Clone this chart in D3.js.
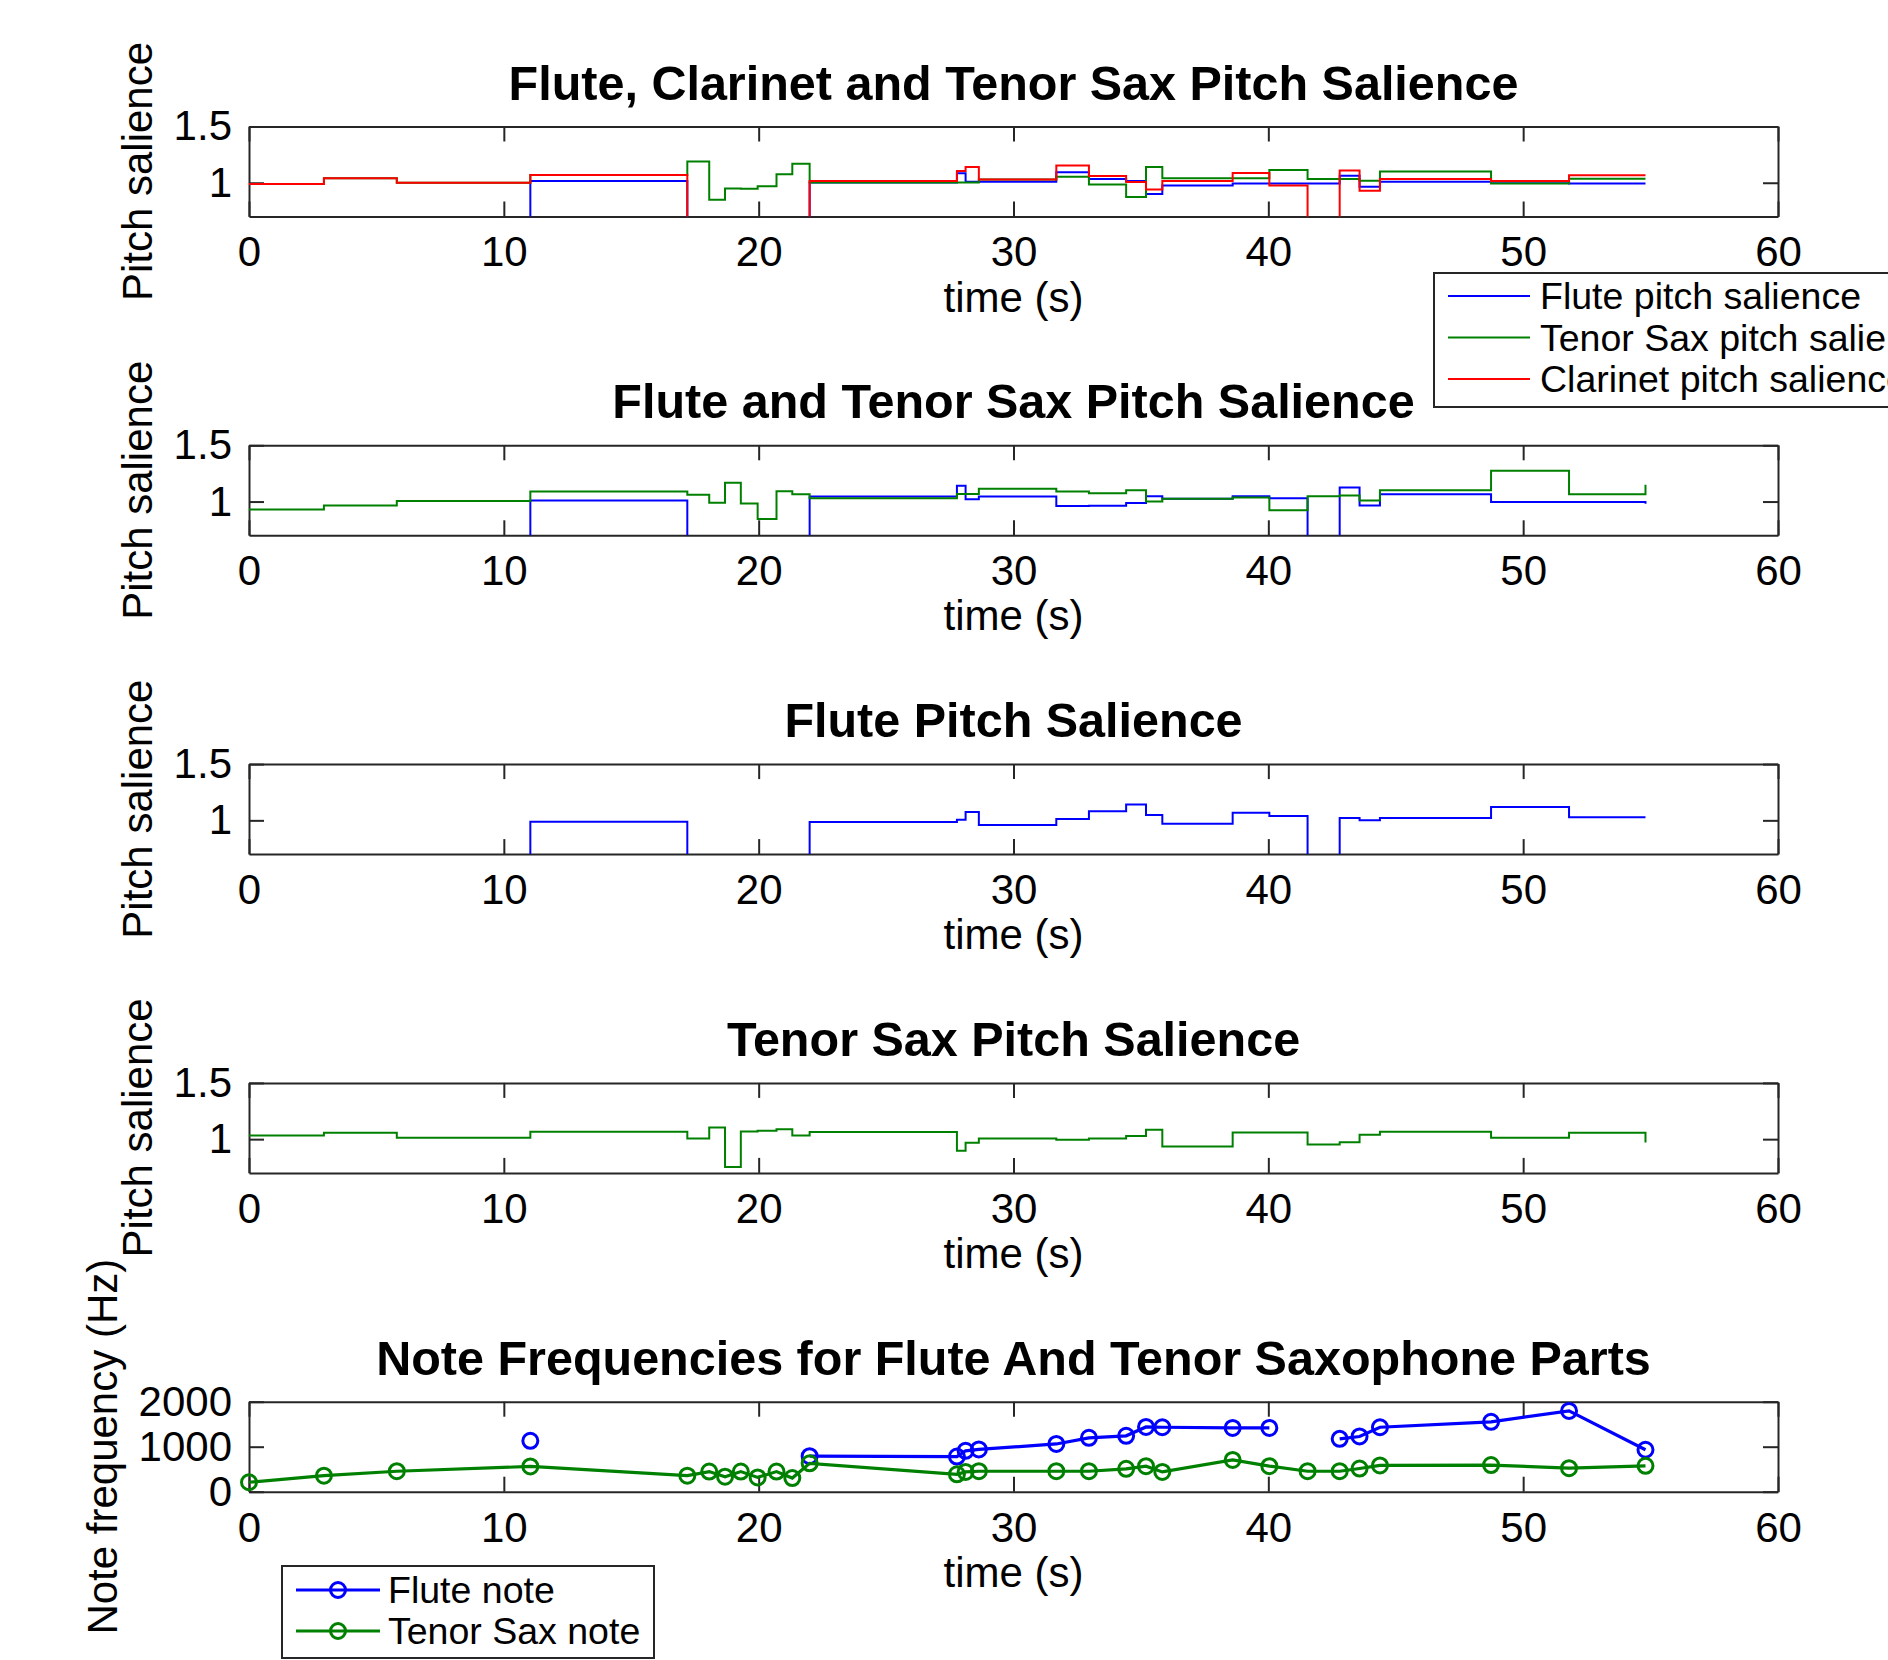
<!DOCTYPE html>
<html>
<head>
<meta charset="utf-8">
<script src="https://cdn.jsdelivr.net/npm/d3@7/dist/d3.min.js"></script>
<style>
  body { margin: 0; background: #fff; }
  text { font-family: "Liberation Sans", Arial, Helvetica, sans-serif; }
</style>
</head>
<body>
<script>
// note onset times (s), shared by every series
const noteTimes = [0, 2.94, 5.8, 11.04, 17.2, 18.06, 18.68, 19.3, 19.96, 20.7, 21.32, 22.0,
  27.78, 28.12, 28.64, 31.68, 32.96, 34.42, 35.2, 35.84, 38.6, 40.04, 41.54, 42.8, 43.58,
  44.38, 48.74, 51.8, 54.8];

// flute + clarinet + tenor sax mix
const trioFlute = [0, 0, 0, 1.015, 0, 0, 0, 0, 0, 0, 0, 1.003, 1.084, 1.01, 1.01,
  1.093, 1.033, 1.015, 0.9, 0.976, 0.994, 0.994, 0.994, 1.063, 0.964, 1.01, 1.01, 0.994, 0.994];
const trioSax = [0.988, 1.039, 1.0, 1.069, 1.19, 0.85, 0.95, 0.946, 0.97, 1.075, 1.17, 1.003,
  1.003, 1.003, 1.03, 1.054, 0.985, 0.873, 1.14, 1.04, 1.04, 1.114, 1.033, 1.033, 1.018, 1.1,
  0.994, 1.036, 1.036];
const trioClarinet = [0.988, 1.039, 1.0, 1.069, 0, 0, 0, 0, 0, 0, 0, 1.015, 1.105, 1.14, 1.03,
  1.154, 1.06, 1.006, 0.94, 1.015, 1.087, 0.976, 0, 1.11, 0.93, 1.033, 1.015, 1.066, 1.066];

// flute + tenor sax mix
const duoFlute = [0, 0, 0, 1.009, 0, 0, 0, 0, 0, 0, 0, 1.045, 1.14, 1.02, 1.045,
  0.961, 0.963, 0.988, 1.048, 1.024, 1.048, 1.03, 0, 1.125, 0.964, 1.065, 0.997, 0.997, 0.98];
const duoSax = [0.93, 0.964, 1.006, 1.089, 1.06, 0.99, 1.167, 0.982, 0.845, 1.092, 1.065, 1.03,
  1.068, 1.068, 1.113, 1.089, 1.074, 1.1, 1.0, 1.024, 1.036, 0.923, 1.048, 1.054, 1.009, 1.1,
  1.274, 1.065, 1.149];

// solo parts
const soloFlute = [0, 0, 0, 0.988, 0, 0, 0, 0, 0, 0, 0, 0.985, 1.006, 1.074, 0.959,
  1.012, 1.08, 1.142, 1.047, 0.97, 1.068, 1.038, 0, 1.021, 1.0, 1.021, 1.118, 1.027, 1.027];
const soloSax = [1.033, 1.057, 1.012, 1.065, 1.006, 1.104, 0.753, 1.068, 1.074, 1.089, 1.033, 1.0625,
  0.896, 0.967, 1.006, 0.994, 1.006, 1.027, 1.083, 0.935, 1.06, 1.06, 0.952, 0.973, 1.039, 1.065,
  1.012, 1.057, 0.97];

// note frequencies (Hz)
const fluteNoteHz = [null, null, null, 1130, null, null, null, null, null, null, null, 790,
  780, 909, 939, 1061, 1197, 1242, 1439, 1432, 1417, 1417, null, 1174, 1227, 1432, 1553, 1795, 932];
const saxNoteHz = [210, 356, 455, 561, 356, 447, 333, 447, 318, 447, 303, 630, 386, 440, 455,
  455, 455, 508, 568, 439, 705, 568, 455, 455, 515, 583, 591, 523, 576];

const xTicks = [0, 10, 20, 30, 40, 50, 60];
const salienceTicks = [1, 1.5];
const freqTicks = [0, 1000, 2000];

const W = 1888, H = 1660;
const left = 249, right = 1778, panelH = 90;
const axisCol = "#262626";
const BLUE = "#0000ff", GREEN = "#008000", RED = "#ff0000";

const svg = d3.select("body").append("svg").attr("width", W).attr("height", H);
const x = d3.scaleLinear().domain([0, 60]).range([left, right]);
const plain = d3.format("");

function panel(top, idx, title, yDomain, yTicks, ylabel, ylabelX) {
  const y = d3.scaleLinear().domain(yDomain).range([top + panelH, top]);
  const g = svg.append("g");
  g.append("clipPath").attr("id", "clip" + idx)
    .append("rect").attr("x", left).attr("y", top).attr("width", right - left).attr("height", panelH);

  const style = sel => {
    sel.selectAll("path, line").attr("stroke", axisCol).attr("stroke-width", 2);
    sel.selectAll("text").attr("fill", "#000").attr("font-size", 42)
      .style("font-family", "'Liberation Sans', Arial, sans-serif");
  };
  g.append("g").attr("transform", `translate(0,${top + panelH})`)
    .call(d3.axisBottom(x).tickValues(xTicks).tickFormat(plain).tickSizeInner(-15).tickSizeOuter(0).tickPadding(20)).call(style);
  g.append("g").attr("transform", `translate(0,${top})`)
    .call(d3.axisTop(x).tickValues(xTicks).tickSizeInner(-15).tickSizeOuter(0).tickFormat("")).call(style);
  g.append("g").attr("transform", `translate(${left},0)`)
    .call(d3.axisLeft(y).tickValues(yTicks).tickFormat(plain).tickSizeInner(-15).tickSizeOuter(0).tickPadding(17)).call(style);
  g.append("g").attr("transform", `translate(${right},0)`)
    .call(d3.axisRight(y).tickValues(yTicks).tickSizeInner(-15).tickSizeOuter(0).tickFormat("")).call(style);

  g.append("text").attr("x", (left + right) / 2).attr("y", top - 27)
    .attr("text-anchor", "middle").attr("font-size", 48.5).attr("font-weight", "bold").text(title);
  g.append("text").attr("x", (left + right) / 2).attr("y", top + panelH + 95)
    .attr("text-anchor", "middle").attr("font-size", 42).text("time (s)");
  g.append("text").attr("transform", `translate(${ylabelX},${top + panelH / 2}) rotate(-90)`)
    .attr("text-anchor", "middle").attr("font-size", 42).text(ylabel);
  return { g, y, clip: "url(#clip" + idx + ")" };
}

function stairs(p, values, color) {
  const line = d3.line().x(d => x(d[0])).y(d => p.y(d[1])).curve(d3.curveStepAfter);
  p.g.append("path").datum(noteTimes.map((t, i) => [t, values[i]]))
    .attr("clip-path", p.clip).attr("fill", "none").attr("stroke", color).attr("stroke-width", 2)
    .attr("d", line);
}

const tops = [126.5, 445.3, 764.1, 1082.9, 1401.7];

const p1 = panel(tops[0], 1, "Flute, Clarinet and Tenor Sax Pitch Salience", [0.7, 1.5], salienceTicks, "Pitch salience", 152);
stairs(p1, trioFlute, BLUE);
stairs(p1, trioSax, GREEN);
stairs(p1, trioClarinet, RED);

const p2 = panel(tops[1], 2, "Flute and Tenor Sax Pitch Salience", [0.7, 1.5], salienceTicks, "Pitch salience", 152);
stairs(p2, duoFlute, BLUE);
stairs(p2, duoSax, GREEN);

const p3 = panel(tops[2], 3, "Flute Pitch Salience", [0.7, 1.5], salienceTicks, "Pitch salience", 152);
stairs(p3, soloFlute, BLUE);

const p4 = panel(tops[3], 4, "Tenor Sax Pitch Salience", [0.7, 1.5], salienceTicks, "Pitch salience", 152);
stairs(p4, soloSax, GREEN);

const p5 = panel(tops[4], 5, "Note Frequencies for Flute And Tenor Saxophone Parts", [0, 2000], freqTicks, "Note frequency (Hz)", 117);
[[fluteNoteHz, BLUE], [saxNoteHz, GREEN]].forEach(([vals, color]) => {
  const pts = noteTimes.map((t, i) => [t, vals[i]]);
  const line = d3.line().defined(d => d[1] != null).x(d => x(d[0])).y(d => p5.y(d[1]));
  p5.g.append("path").datum(pts).attr("fill", "none").attr("stroke", color)
    .attr("stroke-width", 3.2).attr("d", line);
  p5.g.selectAll(null).data(pts.filter(d => d[1] != null)).enter().append("circle")
    .attr("cx", d => x(d[0])).attr("cy", d => p5.y(d[1])).attr("r", 7.5)
    .attr("fill", "none").attr("stroke", color).attr("stroke-width", 3);
});

// legend for the top panel (runs off the right edge, as in the figure)
const leg1 = svg.append("g");
leg1.append("rect").attr("x", 1434).attr("y", 273).attr("width", 520).attr("height", 134)
  .attr("fill", "#fff").attr("stroke", axisCol).attr("stroke-width", 2);
[["Flute pitch salience", BLUE], ["Tenor Sax pitch salience", GREEN], ["Clarinet pitch salience", RED]]
  .forEach(([name, color], i) => {
    const cy = 296 + i * 41.5;
    leg1.append("line").attr("x1", 1448).attr("x2", 1530).attr("y1", cy).attr("y2", cy)
      .attr("stroke", color).attr("stroke-width", 2);
    leg1.append("text").attr("x", 1540).attr("y", cy + 13).attr("font-size", 37.5).text(name);
  });

// legend for the note panel
const leg5 = svg.append("g");
leg5.append("rect").attr("x", 282).attr("y", 1566).attr("width", 372).attr("height", 92)
  .attr("fill", "#fff").attr("stroke", axisCol).attr("stroke-width", 2);
[["Flute note", BLUE], ["Tenor Sax note", GREEN]].forEach(([name, color], i) => {
  const cy = 1590 + i * 41;
  leg5.append("line").attr("x1", 296).attr("x2", 380).attr("y1", cy).attr("y2", cy)
    .attr("stroke", color).attr("stroke-width", 3.2);
  leg5.append("circle").attr("cx", 338).attr("cy", cy).attr("r", 7.5)
    .attr("fill", "none").attr("stroke", color).attr("stroke-width", 3);
  leg5.append("text").attr("x", 388).attr("y", cy + 13).attr("font-size", 37.5).text(name);
});
</script>
</body>
</html>
